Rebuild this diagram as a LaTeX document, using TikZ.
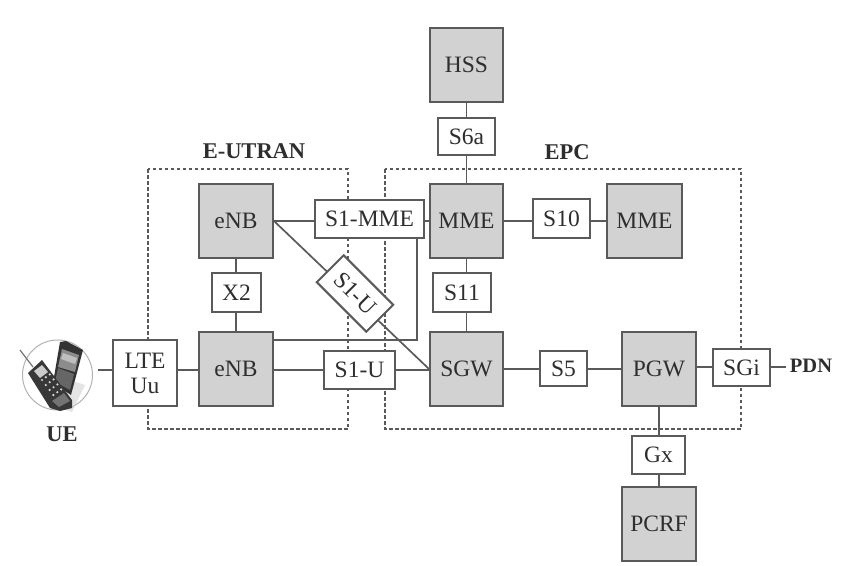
\documentclass[tikz,border=0pt]{standalone}
\usepackage{fontspec}
\setmainfont{Liberation Serif}
\usetikzlibrary{calc}
\definecolor{ln}{HTML}{5A5A5A}
\definecolor{gbox}{HTML}{D2D2D2}
\definecolor{tx}{HTML}{2E2E2E}
\tikzset{
  conn/.style={draw=ln,line width=1.7pt},
  base/.style={draw=ln,line width=2pt,inner sep=0pt,align=center,text=tx,font=\fontsize{23.5}{25}\selectfont},
  gnode/.style={base,fill=gbox},
  wnode/.style={base,fill=white},
  region/.style={draw=ln,line width=1.4pt,dash pattern=on 3.5pt off 2.5pt},
  title/.style={text=tx,font=\fontsize{22.5}{26}\selectfont\bfseries,inner sep=0pt}
}
\newcommand{\bx}[7]{\node[#1,minimum width=#5pt-#4pt,minimum height=#7pt-#6pt] (#2) at ({(#4+#5)/2},{(#6+#7)/2}) {#3};}
\begin{document}
\begin{tikzpicture}[x=1pt,y=-1pt]
\useasboundingbox (0,0) rectangle (853,565);
\fill[white] (0,0) rectangle (853,565);
% regions
\draw[region] (148,169) rectangle (348,429);
\draw[region] (385,169) rectangle (741,429);
\node[title] (eutran) at (254,151) {E-UTRAN};
\node[title] (epc) at (567,152) {EPC};
% main nodes
\bx{gnode}{hss}{HSS}{430}{503}{28}{102}
\bx{gnode}{enbt}{eNB}{199}{273}{184}{258}
\bx{gnode}{enbb}{eNB}{199}{273}{332}{406}
\bx{gnode}{mmea}{MME}{430}{503}{184}{258}
\bx{gnode}{mmeb}{MME}{607}{682}{184}{258}
\bx{gnode}{sgw}{SGW}{430}{503}{332}{406}
\bx{gnode}{pgw}{PGW}{622}{696}{332}{406}
\bx{gnode}{pcrf}{PCRF}{622}{696}{487}{561}
\coordinate (ueport) at (98,370);
\coordinate (pdnport) at (786,367);
\coordinate (turn) at (417,340);
\coordinate (s1mmeport) at (417,238);
% connectors beneath interface boxes
\draw[conn] (hss.south) -- (mmea.north);
\draw[conn] (enbt.south -| 236,0) -- (enbb.north -| 236,0);
\draw[conn] (ueport) -- (enbb.west |- ueport);
\draw[conn] (enbb.east |- 0,370) -- (sgw.west |- 0,370);
\draw[conn] (enbt.east) -- (mmea.west);
\draw[conn] (enbt.east) -- (sgw.west);
\draw[conn] (enbb.east |- turn) -- (turn) -- (s1mmeport);
\draw[conn] (mmea.south) -- (sgw.north);
\draw[conn] (mmea.east) -- (mmeb.west);
\draw[conn] (sgw.east) -- (pgw.west);
\draw[conn] (pgw.east |- pdnport) -- (pdnport);
\draw[conn] (pgw.south) -- (pcrf.north);
% interface boxes
\bx{wnode}{s6a}{S6a}{438}{495}{118}{155}
\bx{wnode}{x2}{X2}{212}{261}{273}{312}
\bx{wnode}{uu}{LTE\\Uu}{113}{177}{340}{406}
\bx{wnode}{s1mme}{S1-MME}{315}{424}{200}{238}
\bx{wnode}{s10}{S10}{533}{590}{199}{238}
\bx{wnode}{s11}{S11}{433}{491}{273}{312}
\bx{wnode}{s1ub}{S1-U}{324}{395}{351}{389}
\bx{wnode}{s5}{S5}{540}{587}{351}{386}
\bx{wnode}{sgi}{SGi}{713}{770}{349}{386}
\bx{wnode}{gx}{Gx}{632}{685}{436}{474}
\node[wnode,rotate=-45,minimum width=70pt,minimum height=38pt] (s1ua) at (355,293.5) {S1-U};
% labels
\node[title,font=\fontsize{20.5}{24}\selectfont\bfseries] (pdn) at (811,366) {PDN};
\node[title] (ue) at (62,434) {UE};
% handset icon
\draw[draw=gray!60,line width=1pt,fill=white] (57.5,375) circle (35);
\fill[gray!35,opacity=.6] (50,405) -- (72,412) -- (85,385) -- (70,380) -- cycle;
\fill[black!80] (60,342) -- (66,341) -- (83,350) -- (71,395) -- (53,383) -- cycle;
\fill[black!45] (62,349) -- (79,355) -- (75,372) -- (58,367) -- cycle;
\fill[black!25] (63,353) -- (77,358) -- (75,364) -- (61,359) -- cycle;
\fill[black!60] (58,368) -- (74,374) -- (70,390) -- (55,382) -- cycle;
\draw[black!55,line width=1.2pt] (20,350) -- (33,367);
\fill[black!78] (28,373) -- (42,360) -- (72,400) -- (72,408) -- (60,411) -- (50,408) -- cycle;
\fill[black!20] (34,371) -- (42,365) -- (48,372) -- (40,378) -- cycle;
\foreach \i in {0,1,2,3}{\foreach \j in {0,1,2}{
  \fill[black!15] ($(42,380)+(\i*3.8,\i*5)+(\j*3.9,-\j*2.8)$) circle (1.2);
}}
\fill[black!55] (52,401) -- (64,393) -- (70,401) -- (59,407) -- cycle;
\end{tikzpicture}
\end{document}
